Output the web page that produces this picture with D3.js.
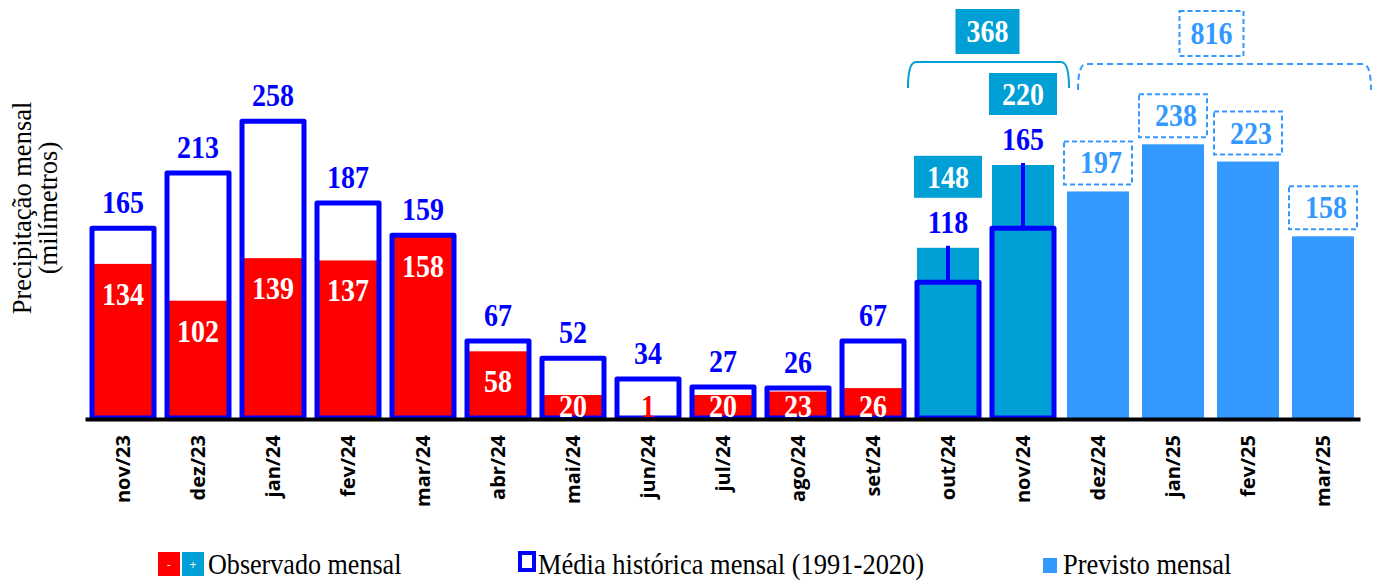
<!DOCTYPE html>
<html>
<head>
<meta charset="utf-8">
<script src="https://cdn.jsdelivr.net/npm/d3@7"></script>
<style>
  body { margin: 0; background: #fff; }
  svg { display: block; }
</style>
</head>
<body>
<svg id="chart" width="1374" height="581"></svg>
<script>
const WIDTH = 1374
const HEIGHT = 581

const months = ['nov/23', 'dez/23', 'jan/24', 'fev/24', 'mar/24', 'abr/24', 'mai/24', 'jun/24',
    'jul/24', 'ago/24', 'set/24', 'out/24', 'nov/24', 'dez/24', 'jan/25', 'fev/25', 'mar/25']
// historical mean (1991-2020), only shown up to nov/24
const media = [165, 213, 258, 187, 159, 67, 52, 34, 27, 26, 67, 118, 165]
// observed, below mean (red)
const observadoMenos = [134, 102, 139, 137, 158, 58, 20, 1, 20, 23, 26]
// observed, above mean (teal)
const observadoMais = [148, 220]
const maisMonths = ['out/24', 'nov/24']
const previsto = [197, 238, 223, 158]
const previstoMonths = ['dez/24', 'jan/25', 'fev/25', 'mar/25']
const somaObservado = 368
const somaPrevisto = 816

const RED = '#ff0000'
const BLUE = '#0000ff'
const TEAL = '#009fd6'
const LIGHT = '#3399ff'
const SERIF = '"Liberation Serif", "Times New Roman", serif'
const STRETCH = 'scale(1, 1.13)'

const svg = d3.select('#chart')

const x = d3.scaleBand()
    .domain(months)
    .range([85.5, 1360.5])
    .paddingInner(13 / 75)
    .paddingOuter(13 / 150)

const y = d3.scaleLinear()
    .domain([0, 300])
    .range([418, 73])

const bw = x.bandwidth()
const cx = m => x(m) + bw / 2
const y0 = y(0)

// bold serif value label, a bit taller than wide like the original
const valueText = (sel, color) => sel
    .attr('text-anchor', 'middle')
    .attr('font-family', SERIF)
    .attr('font-weight', 'bold')
    .attr('font-size', 28)
    .attr('fill', color)

// red observed bars
svg.append('g')
    .selectAll('rect')
    .data(observadoMenos)
    .join('rect')
    .attr('x', (d, i) => x(months[i]))
    .attr('y', d => y(d))
    .attr('width', bw)
    .attr('height', d => y0 - y(d))
    .attr('fill', RED)

// teal observed bars
svg.append('g')
    .selectAll('rect')
    .data(observadoMais)
    .join('rect')
    .attr('x', (d, i) => x(maisMonths[i]))
    .attr('y', d => y(d))
    .attr('width', bw)
    .attr('height', d => y0 - y(d))
    .attr('fill', TEAL)

// forecast bars
svg.append('g')
    .selectAll('rect')
    .data(previsto)
    .join('rect')
    .attr('x', (d, i) => x(previstoMonths[i]))
    .attr('y', d => y(d))
    .attr('width', bw)
    .attr('height', d => y0 - y(d))
    .attr('fill', LIGHT)

// connector lines above the mean box where observed > mean
svg.append('g')
    .selectAll('line')
    .data(observadoMais)
    .join('line')
    .attr('x1', (d, i) => cx(maisMonths[i]))
    .attr('x2', (d, i) => cx(maisMonths[i]))
    .attr('y1', (d, i) => y(media[11 + i]))
    .attr('y2', d => y(d) - 2)
    .attr('stroke', BLUE)
    .attr('stroke-width', 4)

// mean outlines
svg.append('g')
    .selectAll('rect')
    .data(media)
    .join('rect')
    .attr('x', (d, i) => x(months[i]))
    .attr('y', d => y(d))
    .attr('width', bw)
    .attr('height', d => y0 - y(d))
    .attr('fill', 'none')
    .attr('stroke', BLUE)
    .attr('stroke-width', 5)
    .attr('stroke-linejoin', 'round')

// baseline
svg.append('line')
    .attr('x1', x.range()[0])
    .attr('x2', x.range()[1])
    .attr('y1', y0 + 1.5)
    .attr('y2', y0 + 1.5)
    .attr('stroke', '#000')
    .attr('stroke-width', 4)

// month labels via axis
const axis = svg.append('g')
    .attr('transform', `translate(0, ${y0 + 3})`)
    .call(d3.axisBottom(x).tickSize(0).tickPadding(0))
axis.select('.domain').remove()
axis.selectAll('text')
    .attr('font-family', '"Open Sans", sans-serif')
    .attr('font-weight', 'bold')
    .attr('font-size', 20)
    .attr('fill', '#000')
    .attr('text-anchor', 'end')
    .attr('dy', '0.35em')
    .attr('transform', 'translate(0, 14) rotate(-90)')
    .attr('x', 0)
    .attr('y', 0)

// mean value labels
svg.append('g')
    .selectAll('text')
    .data(media)
    .join('text')
    .attr('transform', (d, i) => {
        const top = i >= 11 ? Math.min(y(d), y(observadoMais[i - 11])) : y(d)
        return `translate(${cx(months[i])}, ${top - 15}) ${STRETCH}`
    })
    .call(valueText, BLUE)
    .text(d => d)

// red bar labels
svg.append('g')
    .selectAll('text')
    .data(observadoMenos)
    .join('text')
    .attr('transform', (d, i) => `translate(${cx(months[i])}, ${Math.min(y(d) + 41, y0 - 1)}) ${STRETCH}`)
    .call(valueText, '#fff')
    .attr('fill', d => d < 5 ? RED : '#fff')
    .text(d => d)

// teal boxed labels
const maisLab = svg.append('g')
    .selectAll('g')
    .data(observadoMais)
    .join('g')
    .attr('transform', (d, i) => `translate(${cx(maisMonths[i])}, ${y(d) - 71})`)
maisLab.append('rect')
    .attr('x', -34).attr('y', -21).attr('width', 68).attr('height', 42)
    .attr('fill', TEAL)
maisLab.append('text')
    .attr('transform', `translate(0, 11) ${STRETCH}`)
    .call(valueText, '#fff')
    .text(d => d)

// forecast dashed labels
const prevLab = svg.append('g')
    .selectAll('g')
    .data(previsto)
    .join('g')
    .attr('transform', (d, i) => `translate(${cx(previstoMonths[i])}, ${y(d) - 29})`)
prevLab.append('rect')
    .attr('x', -34).attr('y', -21).attr('width', 68).attr('height', 43)
    .attr('fill', '#fff')
    .attr('stroke', LIGHT)
    .attr('stroke-width', 2)
    .attr('stroke-dasharray', '5,3')
prevLab.append('text')
    .attr('transform', `translate(3, 11) ${STRETCH}`)
    .call(valueText, LIGHT)
    .text(d => d)

// braces with totals
const brace = (x1, x2, yTop, yEnd, color, dashed) => {
    const p = d3.path()
    p.moveTo(x1, yEnd)
    p.quadraticCurveTo(x1, yTop, x1 + 8, yTop)
    p.lineTo(x2 - 8, yTop)
    p.quadraticCurveTo(x2, yTop, x2, yEnd)
    svg.append('path')
        .attr('d', p.toString())
        .attr('fill', 'none')
        .attr('stroke', color)
        .attr('stroke-width', 2)
        .attr('stroke-dasharray', dashed ? '6,4' : null)
}
brace(x('out/24') - 9, x('nov/24') + bw + 15, 62, 88, TEAL, false)
brace(x('dez/24') + 11, x('mar/25') + bw + 17, 64, 90, LIGHT, true)

const total1 = svg.append('g')
    .attr('transform', `translate(${(x('out/24') + x('nov/24') + bw) / 2 + 2}, 31)`)
total1.append('rect')
    .attr('x', -32).attr('y', -22).attr('width', 64).attr('height', 45)
    .attr('fill', TEAL)
total1.append('text')
    .attr('transform', `translate(0, 11) ${STRETCH}`)
    .call(valueText, '#fff')
    .text(somaObservado)

const total2 = svg.append('g')
    .attr('transform', `translate(${(x('dez/24') + x('mar/25') + bw) / 2 + 1}, 33)`)
total2.append('rect')
    .attr('x', -32).attr('y', -22).attr('width', 64).attr('height', 45)
    .attr('fill', '#fff')
    .attr('stroke', LIGHT)
    .attr('stroke-width', 2)
    .attr('stroke-dasharray', '5,3')
total2.append('text')
    .attr('transform', `translate(0, 11) ${STRETCH}`)
    .call(valueText, LIGHT)
    .text(somaPrevisto)

// y axis title
const yt = svg.append('g')
    .attr('transform', 'translate(0, 208) rotate(-90)')
    .attr('font-family', SERIF)
    .attr('font-size', 26.5)
    .attr('text-anchor', 'middle')
    .attr('fill', '#000')
yt.append('text').attr('y', 31).text('Precipitação mensal')
yt.append('text').attr('y', 57).text('(milímetros)')

// legend
const lg = svg.append('g').attr('font-family', SERIF).attr('font-size', 26.5).attr('fill', '#000')
lg.append('rect').attr('x', 158).attr('y', 552).attr('width', 22).attr('height', 24).attr('fill', RED)
lg.append('rect').attr('x', 182).attr('y', 552).attr('width', 22).attr('height', 24).attr('fill', TEAL)
lg.append('text').attr('x', 169).attr('y', 569).attr('text-anchor', 'middle')
    .attr('font-family', '"Open Sans", sans-serif').attr('font-size', 12).attr('fill', '#fff').text('-')
lg.append('text').attr('x', 193).attr('y', 569).attr('text-anchor', 'middle')
    .attr('font-family', '"Open Sans", sans-serif').attr('font-size', 12).attr('fill', '#fff').text('+')
lg.append('text').attr('transform', 'translate(208, 574) scale(0.985, 1.1)').text('Observado mensal')

lg.append('rect').attr('x', 520).attr('y', 553).attr('width', 14).attr('height', 17)
    .attr('fill', '#fff').attr('stroke', BLUE).attr('stroke-width', 4)
lg.append('text').attr('transform', 'translate(538, 574) scale(1, 1.1)').text('Média histórica mensal (1991-2020)')

lg.append('rect').attr('x', 1043).attr('y', 558).attr('width', 14).attr('height', 15).attr('fill', LIGHT)
lg.append('text').attr('transform', 'translate(1063, 574) scale(1, 1.1)').text('Previsto mensal')
</script>
</body>
</html>
